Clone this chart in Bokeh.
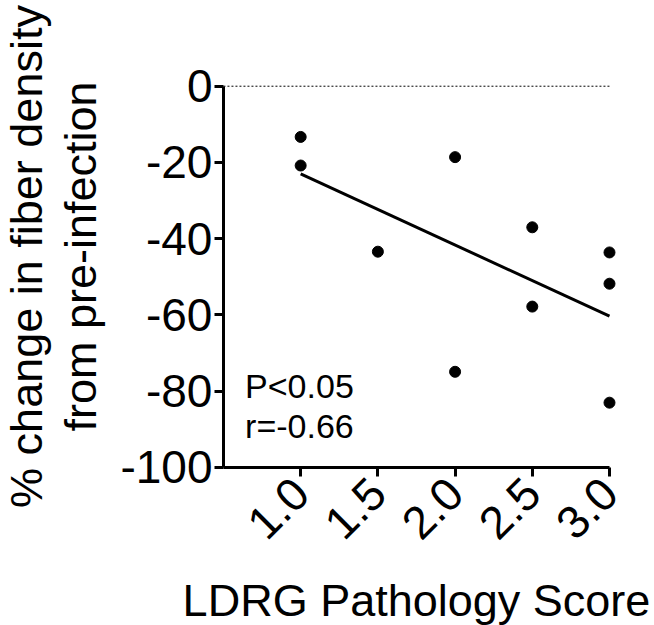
import numpy as np
from bokeh.plotting import figure
from bokeh.models import Range1d, FixedTicker, Label, LinearAxis
from bokeh.embed import file_html
from bokeh.resources import INLINE

# Data
score = [1.0, 1.0, 1.5, 2.0, 2.0, 2.5, 2.5, 3.0, 3.0, 3.0]
change = [-13.3, -20.8, -43.4, -18.6, -74.9, -37.0, -57.8, -43.6, -51.8, -83.0]
x_ticks = [1.0, 1.5, 2.0, 2.5, 3.0]
x_tick_labels = ["1.0", "1.5", "2.0", "2.5", "3.0"]
y_ticks = [0, -20, -40, -60, -80, -100]
y_tick_labels = ["0", "-20", "-40", "-60", "-80", "-100"]
fit_x = [1.0, 3.0]
fit_y = [-23.0, -60.3]
stats_text = ["P<0.05", "r=-0.66"]
y_title_lines = ["% change in fiber density", "from pre-infection"]
x_title = "LDRG Pathology Score"

X_MIN, X_MAX = 0.5, 3.0
Y_MIN, Y_MAX = -100, 0

FONT = "Liberation Sans"

# The frame covers the whole canvas; axes sit at fixed data locations so
# that the titles can be drawn as ordinary labels.
p = figure(width=654, height=625, output_backend="svg", toolbar_location=None,
           x_range=Range1d(-0.944, 3.2915), y_range=Range1d(-141.44, 22.48),
           x_axis_location=None, y_axis_location=None)
p.min_border = 0
p.min_border_left = 0
p.min_border_right = 0
p.min_border_top = 0
p.min_border_bottom = 0
p.outline_line_color = None
p.grid.visible = False
p.background_fill_color = "white"
p.border_fill_color = "white"

# zero reference line
p.line(x=[X_MIN, X_MAX], y=[0, 0], line_color="black", line_width=1, line_dash="2 2")

# regression line
p.line(x=fit_x, y=fit_y, line_color="black", line_width=3)

# points
p.scatter(x=score, y=change, size=11, color="black")

# axes
xa = LinearAxis(fixed_location=Y_MIN, bounds=(X_MIN, X_MAX),
                ticker=FixedTicker(ticks=x_ticks),
                major_label_overrides=dict(zip(x_ticks, x_tick_labels)),
                major_label_orientation=np.pi / 4)
ya = LinearAxis(fixed_location=X_MIN, bounds=(Y_MIN, Y_MAX),
                ticker=FixedTicker(ticks=y_ticks),
                major_label_overrides=dict(zip(y_ticks, y_tick_labels)))
for ax in (xa, ya):
    ax.axis_line_width = 3
    ax.axis_line_color = "black"
    ax.major_tick_line_width = 3
    ax.major_tick_line_color = "black"
    ax.major_tick_in = 0
    ax.major_tick_out = 9
    ax.minor_tick_line_color = None
    ax.major_label_text_font = FONT
    ax.major_label_text_font_size = "46px"
    ax.major_label_text_color = "black"
ya.major_label_standoff = 2
xa.major_label_standoff = 9
p.add_layout(xa, "below")
p.add_layout(ya, "left")

# statistics annotation
p.add_layout(Label(x=0.64, y=-78.6, text=stats_text[0], text_font=FONT,
                   text_font_size="34px", text_color="black", text_baseline="alphabetic"))
p.add_layout(Label(x=0.64, y=-89.1, text=stats_text[1], text_font=FONT,
                   text_font_size="34px", text_color="black", text_baseline="alphabetic"))

# axis titles
p.add_layout(Label(x=(X_MIN + X_MAX) / 2, y=-134.8, text=x_title,
                   text_font=FONT, text_font_size="45px", text_color="black",
                   text_align="center", text_baseline="alphabetic"))
p.add_layout(Label(x=-0.7755, y=-44.66, text=y_title_lines[0], angle=np.pi / 2,
                   text_font=FONT, text_font_size="45px", text_color="black",
                   text_align="center", text_baseline="alphabetic"))
p.add_layout(Label(x=-0.4257, y=-44.66, text=y_title_lines[1], angle=np.pi / 2,
                   text_font=FONT, text_font_size="45px", text_color="black",
                   text_align="center", text_baseline="alphabetic"))

open("out.html", "w").write(file_html(p, INLINE))
